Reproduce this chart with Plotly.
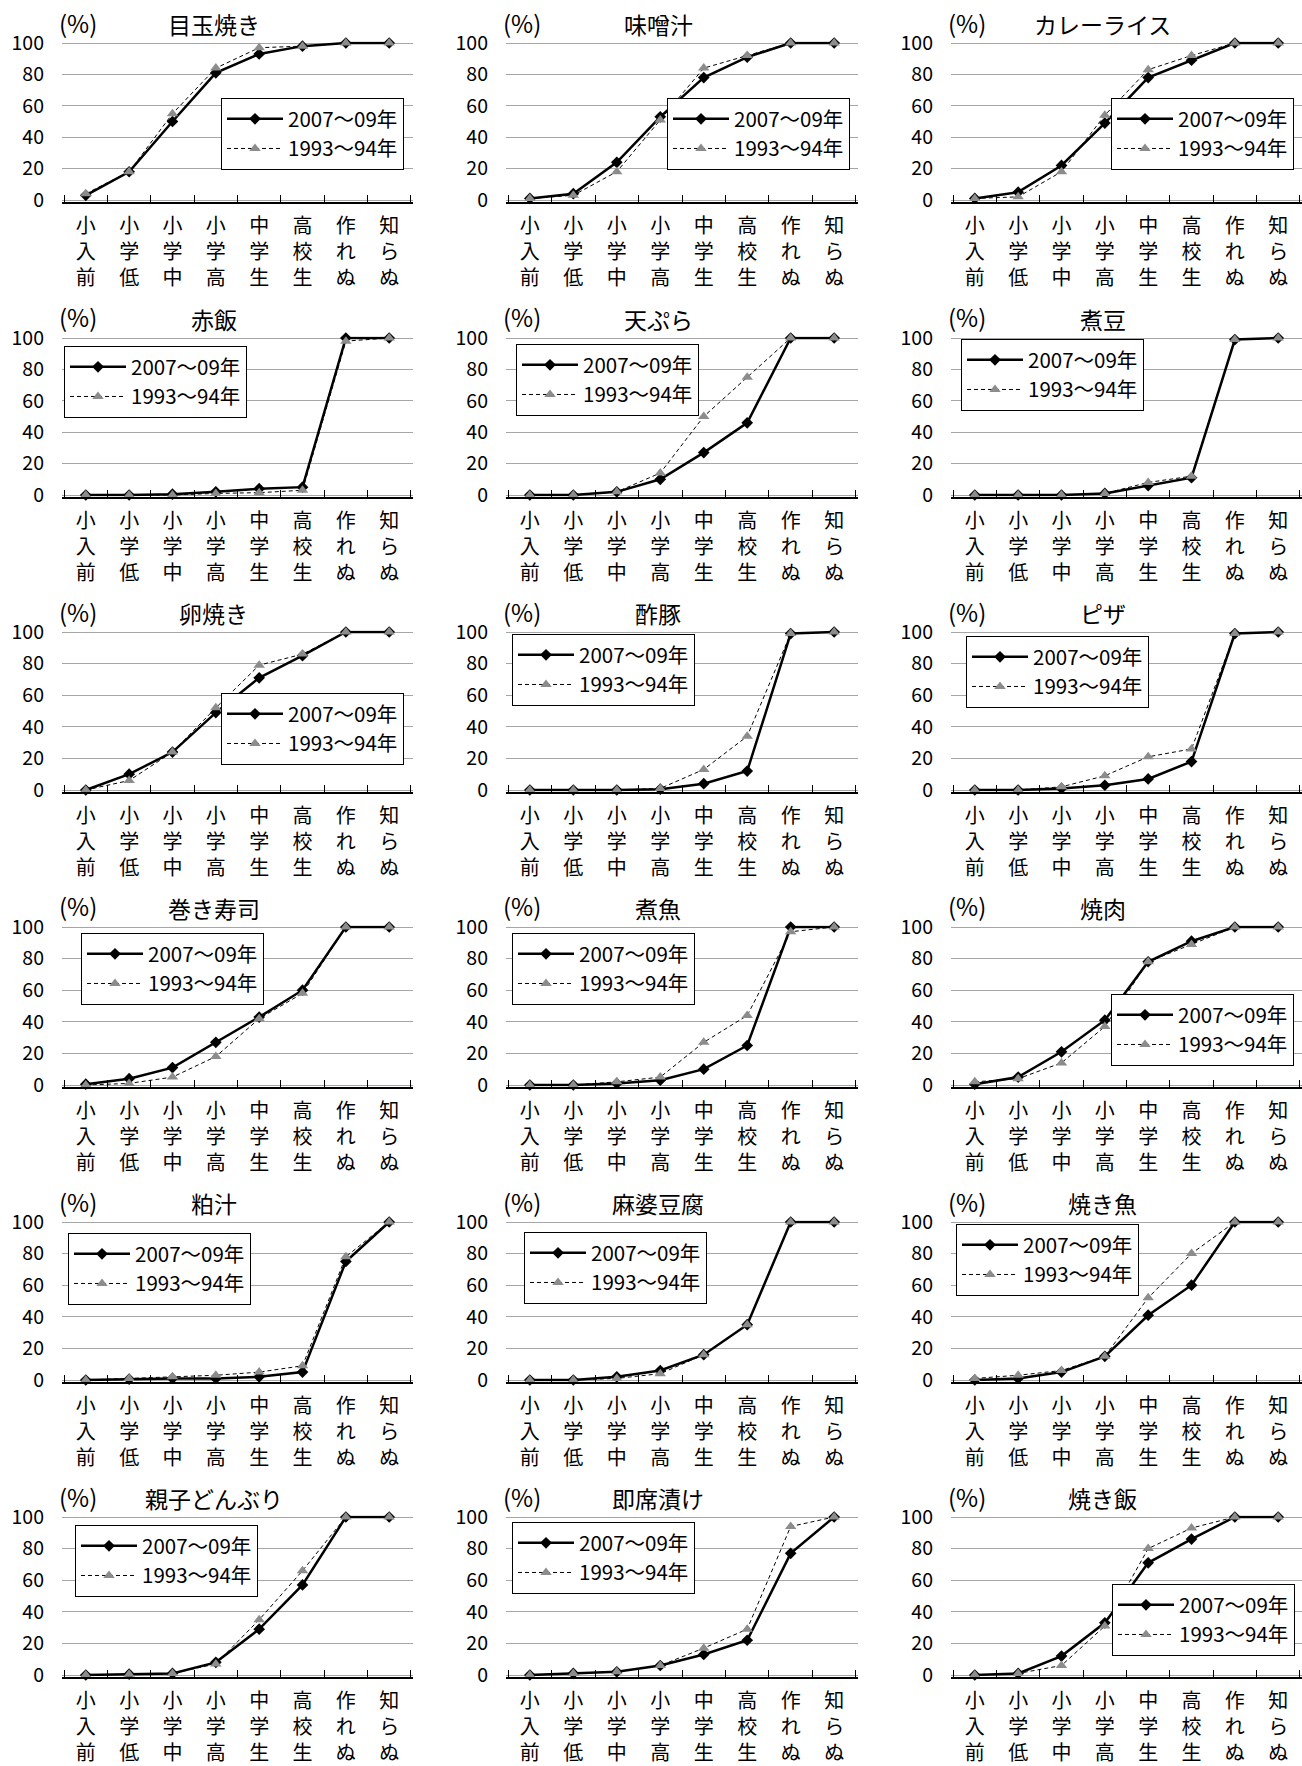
import plotly.graph_objects as go

W, H = 1302, 1766
FONT = "Noto Sans CJK JP"

categories = ["小入前", "小学低", "小学中", "小学高", "中学生", "高校生", "作れぬ", "知らぬ"]
series_names = ["2007～09年", "1993～94年"]
dishes = ["目玉焼き", "味噌汁", "カレーライス", "赤飯", "天ぷら", "煮豆",
          "卵焼き", "酢豚", "ピザ", "巻き寿司", "煮魚", "焼肉",
          "粕汁", "麻婆豆腐", "焼き魚", "親子どんぶり", "即席漬け", "焼き飯"]
y_ticks = [0, 20, 40, 60, 80, 100]
unit_label = "(%)"

# cumulative % (2007-09 / 1993-94)
medamayaki_2007 = [3, 18, 50, 81, 93, 98, 100, 100]
medamayaki_1993 = [4, 18, 55, 84, 97, 98, 100, 100]
misoshiru_2007 = [1, 4, 24, 53, 78, 91, 100, 100]
misoshiru_1993 = [1, 3, 18, 51, 84, 92, 100, 100]
curry_2007 = [1, 5, 22, 49, 78, 89, 100, 100]
curry_1993 = [1, 2, 18, 54, 83, 92, 100, 100]
sekihan_2007 = [0, 0, 0.5, 2, 4, 5, 100, 100]
sekihan_1993 = [0, 0, 0, 1, 1.5, 3, 98, 100]
tempura_2007 = [0, 0, 2, 10, 27, 46, 100, 100]
tempura_1993 = [0, 0, 2, 14, 50, 75, 100, 100]
nimame_2007 = [0, 0, 0, 1, 6, 11, 99, 100]
nimame_1993 = [0, 0, 0, 1, 8, 12, 99, 100]
tamagoyaki_2007 = [0, 10, 24, 49, 71, 85, 100, 100]
tamagoyaki_1993 = [0, 6, 24, 52, 79, 86, 100, 100]
subuta_2007 = [0, 0, 0, 0.5, 4, 12, 99, 100]
subuta_1993 = [0, 0, 0, 1, 13, 34, 99, 100]
pizza_2007 = [0, 0, 1, 3, 7, 18, 99, 100]
pizza_1993 = [0, 0, 2, 9, 21, 26, 99, 100]
makizushi_2007 = [0.5, 4, 11, 27, 43, 60, 100, 100]
makizushi_1993 = [0, 1, 5, 18, 42, 58, 100, 100]
nizakana_2007 = [0, 0, 1, 3, 10, 25, 100, 100]
nizakana_1993 = [0, 0, 2, 5, 27, 44, 97, 100]
yakiniku_2007 = [0.5, 5, 21, 41, 78, 91, 100, 100]
yakiniku_1993 = [2, 4, 14, 37, 78, 89, 100, 100]
kasujiru_2007 = [0, 0.5, 1, 1, 2, 5, 75, 100]
kasujiru_1993 = [0, 1, 2, 3, 5, 9, 78, 100]
mabo_2007 = [0, 0, 2, 6, 16, 35, 100, 100]
mabo_1993 = [0, 0, 1, 4, 16, 35, 100, 100]
yakizakana_2007 = [0, 1, 5, 15, 41, 60, 100, 100]
yakizakana_1993 = [1, 3, 6, 15, 52, 80, 100, 100]
oyakodon_2007 = [0, 0.5, 1, 8, 29, 57, 100, 100]
oyakodon_1993 = [0, 0.5, 1, 7, 35, 66, 100, 100]
sokusekizuke_2007 = [0, 1, 2, 6, 13, 22, 77, 100]
sokusekizuke_1993 = [0, 1, 2, 6, 17, 29, 94, 100]
yakimeshi_2007 = [0, 1, 12, 33, 71, 86, 100, 100]
yakimeshi_1993 = [0, 1, 6, 31, 80, 93, 100, 100]

values_2007 = [medamayaki_2007, misoshiru_2007, curry_2007, sekihan_2007, tempura_2007, nimame_2007,
               tamagoyaki_2007, subuta_2007, pizza_2007, makizushi_2007, nizakana_2007, yakiniku_2007,
               kasujiru_2007, mabo_2007, yakizakana_2007, oyakodon_2007, sokusekizuke_2007, yakimeshi_2007]
values_1993 = [medamayaki_1993, misoshiru_1993, curry_1993, sekihan_1993, tempura_1993, nimame_1993,
               tamagoyaki_1993, subuta_1993, pizza_1993, makizushi_1993, nizakana_1993, yakiniku_1993,
               kasujiru_1993, mabo_1993, yakizakana_1993, oyakodon_1993, sokusekizuke_1993, yakimeshi_1993]

# ---- layout geometry (pixels) ----
col_x = [(62, 413), (506, 858), (951, 1302)]
row_top = [43, 338, 632, 927, 1222, 1517]      # pixel of y=100
row_bot = [200, 495, 790, 1085, 1380, 1675]    # pixel of y=0
legend_px = [(221, 98), (667, 98), (1111, 98),
             (64, 346), (516, 344), (961, 339),
             (221, 693), (512, 634), (966, 636),
             (81, 933), (512, 933), (1111, 994),
             (68, 1233), (524, 1232), (956, 1224),
             (75, 1525), (512, 1522), (1112, 1584)]

xlabels = ["<br>".join(c) for c in categories]
YMIN, YMAX = -1, 101


def px_x(p):
    return p / W


def px_y(p):
    return 1 - p / H


fig = go.Figure()
annotations = []
layout = {}
for i, dish in enumerate(dishes):
    r, c = divmod(i, 3)
    suffix = "" if i == 0 else str(i + 1)
    xname, yname = "x" + suffix, "y" + suffix
    legname = "legend" + suffix
    x0, x1 = col_x[c]
    p100, p0 = row_top[r], row_bot[r]
    ppu = (p0 - p100) / 100.0
    bot_px = p0 + (0 - YMIN) * ppu
    top_px = p100 - (YMAX - 100) * ppu

    layout["xaxis" + suffix] = dict(
        domain=[px_x(x0), px_x(x1)], anchor=yname, type="category",
        categoryorder="array", categoryarray=xlabels,
        showline=True, linecolor="black", linewidth=1.5,
        ticks="inside", tickson="boundaries", ticklen=7, tickcolor="black", tickwidth=1,
        showgrid=False, zeroline=False, automargin=False,
        tickfont=dict(family=FONT, size=20, color="black"),
        ticklabelstandoff=6, fixedrange=True,
    )
    layout["yaxis" + suffix] = dict(
        domain=[px_y(bot_px), px_y(top_px)], anchor=xname,
        range=[YMIN, YMAX], tickvals=y_ticks,
        showgrid=True, gridcolor="#a6a6a6", gridwidth=1,
        showline=False, zeroline=False, ticks="", automargin=False,
        tickfont=dict(family=FONT, size=19.5, color="black"),
        ticklabelstandoff=17, fixedrange=True,
    )
    lx, ly = legend_px[i]
    layout[legname] = dict(
        x=px_x(lx), y=px_y(ly), xref="paper", yref="paper",
        xanchor="left", yanchor="top",
        bgcolor="white", bordercolor="black", borderwidth=1,
        font=dict(family=FONT, size=20.5, color="black"),
        itemwidth=56, tracegroupgap=0, traceorder="normal",
    )

    fig.add_trace(go.Scatter(
        x=xlabels, y=values_2007[i], name=series_names[0], mode="lines+markers",
        line=dict(color="black", width=2.5),
        marker=dict(symbol="diamond", size=9, color="black"),
        xaxis=xname, yaxis=yname, legend=legname, cliponaxis=False, showlegend=True,
    ))
    fig.add_trace(go.Scatter(
        x=xlabels, y=values_1993[i], name=series_names[1], mode="lines+markers",
        line=dict(color="black", width=1, dash="4px,3px"),
        marker=dict(symbol="triangle-up", size=10, color="#8c8c8c"),
        xaxis=xname, yaxis=yname, legend=legname, cliponaxis=False, showlegend=True,
    ))

    annotations.append(dict(
        text=dish, x=px_x((x0 + x1) / 2 - 24), y=px_y(p100 - 19),
        xref="paper", yref="paper", xanchor="center", yanchor="middle",
        showarrow=False, font=dict(family=FONT, size=23, color="black"),
    ))
    annotations.append(dict(
        text=unit_label, x=px_x(x0 + 16), y=px_y(p100 - 21),
        xref="paper", yref="paper", xanchor="center", yanchor="middle",
        showarrow=False, font=dict(family=FONT, size=24, color="black"),
    ))

fig.update_layout(
    width=W, height=H, margin=dict(l=0, r=0, t=0, b=0, pad=0, autoexpand=False),
    paper_bgcolor="white", plot_bgcolor="white",
    font=dict(family=FONT, color="black"),
    annotations=annotations, **layout,
)

fig.write_html(
    "out.html",
    config={"displayModeBar": False},
    post_script="document.body.style.margin='0';document.body.style.overflow='hidden';",
)
